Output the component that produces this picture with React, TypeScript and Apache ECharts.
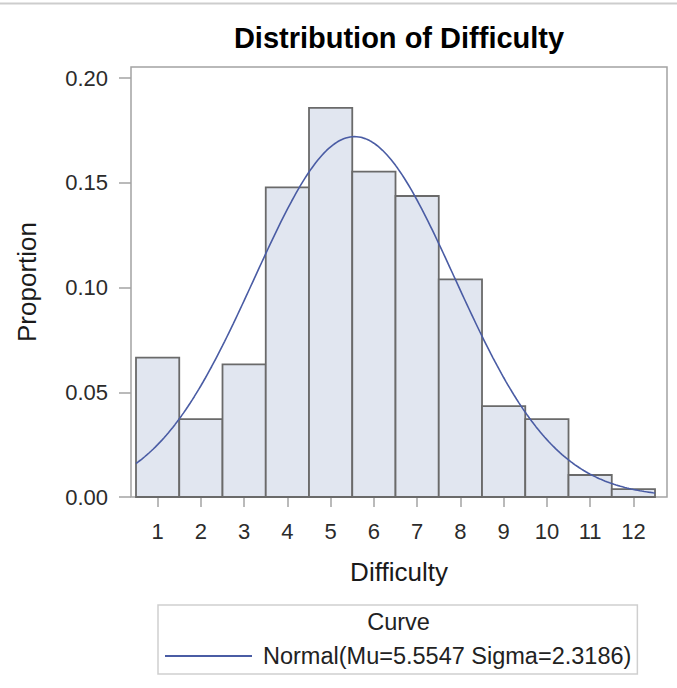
import React, { useEffect, useRef } from "react";
import * as echarts from "echarts";

// ---- data ----
const categories = [1, 2, 3, 4, 5, 6, 7, 8, 9, 10, 11, 12];
const proportions = [
  0.0665, 0.0372, 0.0633, 0.1478, 0.1858, 0.1553, 0.1437, 0.1039, 0.0434, 0.0372, 0.0105, 0.0038,
];
const yTicks = [0, 0.05, 0.1, 0.15, 0.2];
const xTicks = [1, 2, 3, 4, 5, 6, 7, 8, 9, 10, 11, 12];
const BIN_WIDTH = 1;
const MU = 5.5547;
const SIGMA = 2.3186;
const curveName = "Normal(Mu=5.5547 Sigma=2.3186)";

const FONT = "'Liberation Sans', Arial, Helvetica, sans-serif";

function normalCurve(): number[][] {
  const pts: number[][] = [];
  const lo = categories[0] - BIN_WIDTH / 2;
  const hi = categories[categories.length - 1] + BIN_WIDTH / 2;
  const steps = 240;
  for (let i = 0; i <= steps; i++) {
    const x = lo + ((hi - lo) * i) / steps;
    const z = (x - MU) / SIGMA;
    const d = (Math.exp(-0.5 * z * z) / (SIGMA * Math.sqrt(2 * Math.PI))) * BIN_WIDTH;
    pts.push([x, d]);
  }
  return pts;
}

export default function App() {
  const ref = useRef<HTMLDivElement>(null);

  useEffect(() => {
    if (!ref.current) return;
    const chart = echarts.init(ref.current, undefined, { renderer: "svg" });
    const option: any = {
      animation: false,
      backgroundColor: "#ffffff",
      textStyle: { fontFamily: FONT },
      grid: {
        left: 131,
        top: 67,
        right: 10,
        bottom: 191,
        show: true,
        borderColor: "#a3a3a3",
        borderWidth: 1.5,
        backgroundColor: "transparent",
      },
      xAxis: {
        type: "value",
        min: 0.3844,
        max: 12.777,
        name: "Difficulty",
        nameLocation: "middle",
        nameGap: 62,
        nameTextStyle: { fontSize: 26, color: "#1a1a1a", fontFamily: FONT },
        axisLine: { show: false },
        splitLine: { show: false },
        axisTick: {
          show: true,
          length: 10,
          customValues: xTicks,
          lineStyle: { color: "#a3a3a3", width: 1.5 },
        },
        axisLabel: {
          customValues: xTicks,
          margin: 23,
          fontSize: 22,
          color: "#2b2b2b",
          fontFamily: FONT,
        },
      },
      yAxis: {
        type: "value",
        min: 0,
        max: 0.2053,
        name: "Proportion",
        nameLocation: "middle",
        nameGap: 91,
        nameTextStyle: { fontSize: 26, color: "#1a1a1a", fontFamily: FONT },
        axisLine: { show: false },
        splitLine: { show: false },
        axisTick: {
          show: true,
          length: 12,
          customValues: yTicks,
          lineStyle: { color: "#a3a3a3", width: 1.5 },
        },
        axisLabel: {
          customValues: yTicks,
          margin: 23,
          fontSize: 22,
          color: "#2b2b2b",
          fontFamily: FONT,
          formatter: (v: number) => v.toFixed(2),
        },
      },
      legend: {
        left: 158,
        top: 605,
        orient: "horizontal",
        padding: [39, 6, 6, 7],
        itemWidth: 87,
        itemHeight: 2,
        icon: "rect",
        borderColor: "#cfcfcf",
        borderWidth: 1.5,
        data: [curveName],
        textStyle: {
          fontSize: 23.5,
          color: "#222222",
          fontFamily: FONT,
          padding: [0, 0, 0, 6],
        },
      },
      graphic: [
        {
          type: "line",
          shape: { x1: 0, y1: 3.5, x2: 677, y2: 3.5 },
          style: { stroke: "#cdcdcd", lineWidth: 2 },
          silent: true,
        },
        {
          type: "text",
          x: 399,
          y: 38,
          style: {
            text: "Distribution of Difficulty",
            fontSize: 29,
            fontWeight: "bold",
            fontFamily: FONT,
            fill: "#000000",
            textAlign: "center",
            textVerticalAlign: "middle",
          },
        },
        {
          type: "text",
          x: 398.5,
          y: 622,
          style: {
            text: "Curve",
            fontSize: 23.5,
            fontFamily: FONT,
            fill: "#222222",
            textAlign: "center",
            textVerticalAlign: "middle",
          },
        },
      ],
      series: [
        {
          type: "custom",
          name: "Histogram",
          encode: { x: 0, y: 1 },
          data: categories.map((c, i) => [c, proportions[i]]),
          renderItem: (params: any, api: any) => {
            const x = api.value(0);
            const y = api.value(1);
            const p0 = api.coord([x - BIN_WIDTH / 2, 0]);
            const p1 = api.coord([x + BIN_WIDTH / 2, y]);
            return {
              type: "rect",
              shape: {
                x: p0[0],
                y: p1[1],
                width: p1[0] - p0[0],
                height: p0[1] - p1[1],
              },
              style: { fill: "#e1e6f0", stroke: "#6a6a6a", lineWidth: 1.8 },
            };
          },
          z: 2,
        },
        {
          type: "line",
          name: curveName,
          data: normalCurve(),
          showSymbol: false,
          symbol: "none",
          smooth: false,
          lineStyle: { color: "#4a5ca4", width: 1.6 },
          itemStyle: { color: "#4a5ca4" },
          z: 3,
        },
      ],
    };
    chart.setOption(option);
    return () => chart.dispose();
  }, []);

  return (
    <div
      ref={ref}
      style={{ position: "fixed", left: 0, top: 0, width: 677, height: 688, background: "#fff" }}
    />
  );
}
